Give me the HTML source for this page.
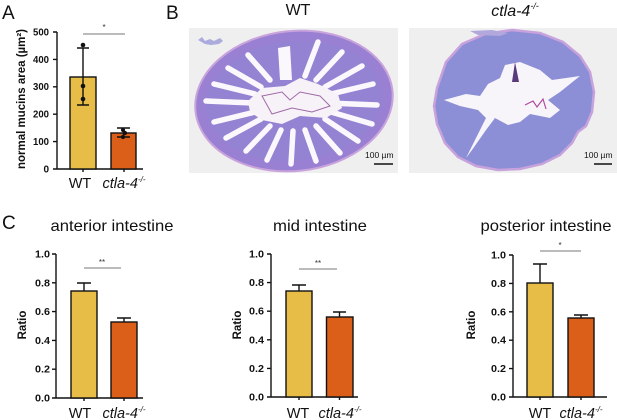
<!DOCTYPE html>
<html><head><meta charset="utf-8"><style>
html,body{margin:0;padding:0;background:#fff;}
svg{display:block;font-family:"Liberation Sans",Arial,sans-serif;}
.tk{font-size:10px;font-weight:bold;text-anchor:end;fill:#111;}
.ax{stroke:#111;stroke-width:1.4;fill:none;}
.bw{fill:#e7bd48;stroke:#111;stroke-width:1.4;}
.bc{fill:#db5e19;stroke:#111;stroke-width:1.4;}
.eb{stroke:#111;stroke-width:1.4;fill:none;}
.sg{stroke:#777;stroke-width:1;}
.st{font-size:8px;fill:#333;text-anchor:middle;}
.ttl{font-size:16px;fill:#111;text-anchor:middle;}
.xl{font-size:14.5px;fill:#111;text-anchor:middle;}
.yl{font-size:11.5px;font-weight:bold;fill:#111;text-anchor:middle;}
.pl{font-size:19px;fill:#111;}
</style></head><body>
<svg width="617" height="420" viewBox="0 0 617 420" xmlns="http://www.w3.org/2000/svg">
<rect width="617" height="420" fill="#fff"/>
<!-- Panel labels -->
<text class="pl" x="2" y="19">A</text>
<text class="pl" x="166" y="19">B</text>
<text class="pl" x="2" y="229">C</text>

<!-- ===== Panel A ===== -->
<text class="yl" transform="translate(25,99) rotate(-90)" textLength="140" lengthAdjust="spacingAndGlyphs">normal mucins area (µm²)</text>
<g class="tk">
<text x="49" y="35.5" textLength="16" lengthAdjust="spacingAndGlyphs">500</text>
<text x="49" y="63" textLength="16" lengthAdjust="spacingAndGlyphs">400</text>
<text x="49" y="90" textLength="16" lengthAdjust="spacingAndGlyphs">300</text>
<text x="49" y="117.5" textLength="16" lengthAdjust="spacingAndGlyphs">200</text>
<text x="49" y="145" textLength="16" lengthAdjust="spacingAndGlyphs">100</text>
<text x="49" y="172.5">0</text>
</g>
<path class="ax" d="M57,32V169H143M53,32H57M53,59.4H57M53,86.8H57M53,114.2H57M53,141.6H57M53,169H57M83,169v3M124,169v3"/>
<rect class="bw" x="70" y="77" width="26" height="92"/>
<rect class="bc" x="111" y="133" width="25" height="36"/>
<path class="eb" d="M83,48V105M77,48H89M77,105H89"/>
<path class="eb" d="M123.5,128V137M117,128H130M117,137H130"/>
<g fill="#111">
<circle cx="83" cy="45" r="2.3"/><circle cx="83" cy="86" r="2.3"/><circle cx="83" cy="99" r="2.3"/>
<circle cx="123" cy="130" r="2.1"/><circle cx="125" cy="133" r="2.1"/><circle cx="123" cy="137" r="2.1"/>
</g>
<line class="sg" x1="83" y1="34" x2="125" y2="34"/>
<text class="st" x="104" y="30">*</text>
<text class="xl" x="80" y="188">WT</text>
<text class="xl" x="124" y="188"><tspan font-style="italic">ctla-4</tspan><tspan font-size="8" dy="-6" font-style="italic">-/-</tspan></text>

<!-- ===== Panel B ===== -->
<text class="ttl" x="298" y="15" font-size="17">WT</text>
<text class="ttl" x="515" y="16" font-size="17"><tspan font-style="italic">ctla-4</tspan><tspan font-size="9" dy="-7" font-style="italic">-/-</tspan></text>

<rect x="189" y="28" width="209" height="145" fill="#efefef"/>
<g transform="rotate(-6 294 101)">
<ellipse cx="294" cy="101" rx="99" ry="70" fill="#9a80d3" stroke="#c9a3dc" stroke-width="2"/>
<ellipse cx="294" cy="101" rx="88" ry="60" fill="#8b85d2" opacity="0.5"/>
</g>
<path d="M198,40l4,-3l3,4l5,-2l4,2l6,-3l3,3l-4,3l-8,1l-6,-1z" fill="#9a9ad8" opacity="0.8"/>
<g stroke="#fbf8fd" stroke-linecap="round" fill="none">
<g stroke-width="5.5">
<line x1="328" y1="103" x2="377" y2="105"/>
<line x1="331" y1="112" x2="372" y2="124"/>
<line x1="325" y1="119" x2="358" y2="141"/>
<line x1="316" y1="126" x2="340" y2="153"/>
<line x1="305" y1="130" x2="316" y2="161"/>
<line x1="293" y1="131" x2="291" y2="164"/>
<line x1="281" y1="130" x2="267" y2="160"/>
<line x1="270" y1="126" x2="246" y2="151"/>
<line x1="261" y1="119" x2="226" y2="138"/>
<line x1="255" y1="112" x2="214" y2="122"/>
<line x1="253" y1="103" x2="206" y2="101"/>
<line x1="255" y1="94" x2="214" y2="84"/>
<line x1="261" y1="87" x2="228" y2="68"/>
<line x1="270" y1="80" x2="248" y2="55"/>
<line x1="305" y1="76" x2="318" y2="42"/>
<line x1="316" y1="80" x2="342" y2="52"/>
<line x1="325" y1="87" x2="362" y2="66"/>
<line x1="331" y1="94" x2="373" y2="84"/>
</g>
<path d="M280,80L278,48L290,46L292,80z" fill="#fbf8fd" stroke="none"/>
</g>
<path d="M248,101L262,88L285,86L300,78L318,84L338,94L342,108L326,118L300,116L282,124L262,120L250,112z" fill="#f7f2f8"/>
<path d="M262,96L282,92L290,100L300,92L320,96L330,106L312,112L292,108L272,114z" fill="none" stroke="#a06aa8" stroke-width="1"/>
<text x="365" y="158" font-size="8.5" fill="#111">100 µm</text>
<line x1="374" y1="164" x2="393" y2="164" stroke="#111" stroke-width="1.5"/>

<rect x="409" y="28" width="208" height="145" fill="#efefef"/>
<path d="M437,88L446,62L462,44L485,34L512,30L540,33L563,42L580,56L590,72L594,92L592,112L586,126L578,132L572,143L560,155L542,164L520,169L498,170L476,166L458,157L445,143L437,124L434,106z" fill="#8c8fd6" stroke="#c7a2dc" stroke-width="2.5"/>
<path d="M470,31L492,30L508,33L500,36L478,35z" fill="#b2a8dc"/>
<path d="M444,100L466,94L480,96L488,84L500,78L505,65L520,62L540,70L552,80L580,76L560,92L548,100L560,110L550,118L530,114L520,122L508,125L495,118L486,130L472,150L466,158L478,134L486,118L478,110L460,106z" fill="#f7f5fa"/>
<path d="M515,62L519,82L512,82z" fill="#5a3a7a"/>
<path d="M525,105l8,-4l4,6l6,-8l3,10" fill="none" stroke="#b04aa0" stroke-width="1.2"/>
<text x="584" y="158" font-size="8.5" fill="#111">100 µm</text>
<line x1="594" y1="164" x2="612" y2="164" stroke="#111" stroke-width="1.5"/>

<!-- ===== Panel C1 anterior ===== -->
<text class="ttl" x="112" y="231" textLength="123" lengthAdjust="spacingAndGlyphs">anterior intestine</text>
<text class="yl" transform="translate(26,325) rotate(-90)">Ratio</text>
<g class="tk">
<text x="50" y="257.5" textLength="15" lengthAdjust="spacingAndGlyphs">1.0</text>
<text x="50" y="286.3" textLength="15" lengthAdjust="spacingAndGlyphs">0.8</text>
<text x="50" y="315" textLength="15" lengthAdjust="spacingAndGlyphs">0.6</text>
<text x="50" y="343.8" textLength="15" lengthAdjust="spacingAndGlyphs">0.4</text>
<text x="50" y="372.6" textLength="15" lengthAdjust="spacingAndGlyphs">0.2</text>
<text x="50" y="401.5" textLength="15" lengthAdjust="spacingAndGlyphs">0.0</text>
</g>
<path class="ax" d="M56,254V398H143M52,254H56M52,282.8H56M52,311.6H56M52,340.4H56M52,369.2H56M52,398H56M84,398v3M124,398v3"/>
<rect class="bw" x="71" y="291" width="26" height="107"/>
<rect class="bc" x="111" y="322" width="26" height="76"/>
<path class="eb" d="M84,283V291M77,283H91"/>
<path class="eb" d="M124,318V322M117,318H131"/>
<line class="sg" x1="84" y1="268" x2="121" y2="268"/>
<text class="st" x="102" y="265">**</text>
<text class="xl" x="80" y="418">WT</text>
<text class="xl" x="124" y="418"><tspan font-style="italic">ctla-4</tspan><tspan font-size="8" dy="-6" font-style="italic">-/-</tspan></text>

<!-- ===== Panel C2 mid ===== -->
<text class="ttl" x="320" y="231" textLength="94" lengthAdjust="spacingAndGlyphs">mid intestine</text>
<text class="yl" transform="translate(241,325) rotate(-90)">Ratio</text>
<g class="tk">
<text x="264" y="257.5" textLength="15" lengthAdjust="spacingAndGlyphs">1.0</text>
<text x="264" y="286.1" textLength="15" lengthAdjust="spacingAndGlyphs">0.8</text>
<text x="264" y="314.7" textLength="15" lengthAdjust="spacingAndGlyphs">0.6</text>
<text x="264" y="343.3" textLength="15" lengthAdjust="spacingAndGlyphs">0.4</text>
<text x="264" y="371.9" textLength="15" lengthAdjust="spacingAndGlyphs">0.2</text>
<text x="264" y="400.5" textLength="15" lengthAdjust="spacingAndGlyphs">0.0</text>
</g>
<path class="ax" d="M271,254V397H358M267,254H271M267,282.6H271M267,311.2H271M267,339.8H271M267,368.4H271M267,397H271M299,397v3M339.5,397v3"/>
<rect class="bw" x="286" y="291" width="26" height="106"/>
<rect class="bc" x="326.5" y="317" width="26.5" height="80"/>
<path class="eb" d="M299,285V291M292,285H306"/>
<path class="eb" d="M339.5,312V317M333,312H346"/>
<line class="sg" x1="299" y1="269" x2="337" y2="269"/>
<text class="st" x="318" y="266">**</text>
<text class="xl" x="298" y="418">WT</text>
<text class="xl" x="340" y="418"><tspan font-style="italic">ctla-4</tspan><tspan font-size="8" dy="-6" font-style="italic">-/-</tspan></text>

<!-- ===== Panel C3 posterior ===== -->
<text class="ttl" x="546" y="231" textLength="131" lengthAdjust="spacingAndGlyphs">posterior intestine</text>
<text class="yl" transform="translate(475,325) rotate(-90)">Ratio</text>
<g class="tk">
<text x="506" y="258.5" textLength="15" lengthAdjust="spacingAndGlyphs">1.0</text>
<text x="506" y="286.9" textLength="15" lengthAdjust="spacingAndGlyphs">0.8</text>
<text x="506" y="315.3" textLength="15" lengthAdjust="spacingAndGlyphs">0.6</text>
<text x="506" y="343.7" textLength="15" lengthAdjust="spacingAndGlyphs">0.4</text>
<text x="506" y="372.1" textLength="15" lengthAdjust="spacingAndGlyphs">0.2</text>
<text x="506" y="400.5" textLength="15" lengthAdjust="spacingAndGlyphs">0.0</text>
</g>
<path class="ax" d="M513,255V397H607M509,255H513M509,283.4H513M509,311.8H513M509,340.2H513M509,368.6H513M509,397H513M540,397v3M581,397v3"/>
<rect class="bw" x="527" y="283" width="26" height="114"/>
<rect class="bc" x="568" y="318" width="26" height="79"/>
<path class="eb" d="M540,264V283M533,264H547"/>
<path class="eb" d="M581,315V318M574,315H588"/>
<line class="sg" x1="540" y1="251" x2="581" y2="251"/>
<text class="st" x="560" y="248">*</text>
<text class="xl" x="540" y="418">WT</text>
<text class="xl" x="581" y="418"><tspan font-style="italic">ctla-4</tspan><tspan font-size="8" dy="-6" font-style="italic">-/-</tspan></text>
</svg>
</body></html>
